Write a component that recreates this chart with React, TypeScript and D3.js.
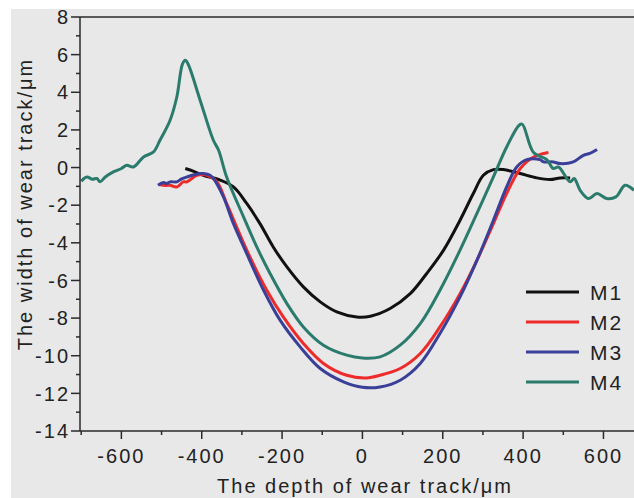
import React from 'react';
import * as d3 from 'd3';

// depth (μm), width (μm) pairs
const m1: [number, number][] = [
  [-441, -0.05], [-420, -0.2], [-396, -0.41], [-354, -0.67], [-321, -1.03], [-288, -1.91],
  [-255, -2.98], [-222, -4.22], [-188, -5.28], [-147, -6.34], [-105, -7.14], [-64, -7.67],
  [-14, -7.94], [20, -7.9], [69, -7.49], [119, -6.7], [160, -5.63], [202, -4.39], [243, -2.8],
  [276, -1.38], [301, -0.41], [326, -0.11], [351, -0.11], [393, -0.32], [434, -0.55],
  [467, -0.64], [492, -0.55], [517, -0.55],
];
const m2: [number, number][] = [
  [-505, -0.9], [-490, -0.95], [-479, -0.94], [-462, -1.03], [-446, -0.76], [-437, -0.76],
  [-412, -0.41], [-387, -0.41], [-362, -0.76], [-338, -1.91], [-313, -3.16], [-280, -4.75],
  [-238, -6.52], [-197, -7.94], [-147, -9.35], [-97, -10.41], [-39, -11.04], [10, -11.18],
  [44, -11.04], [94, -10.68], [144, -9.88], [193, -8.47], [243, -6.7], [285, -4.93],
  [326, -2.98], [359, -1.38], [393, -0.05], [426, 0.56], [463, 0.8],
];
const m3: [number, number][] = [
  [-509, -0.94], [-495, -0.8], [-487, -0.85], [-479, -0.76], [-462, -0.76], [-450, -0.6],
  [-437, -0.5], [-404, -0.32], [-396, -0.32], [-379, -0.41], [-371, -0.58], [-346, -1.56],
  [-321, -2.98], [-288, -4.57], [-246, -6.52], [-205, -8.11], [-155, -9.53], [-105, -10.68],
  [-47, -11.39], [0, -11.68], [44, -11.66], [94, -11.3], [144, -10.41], [193, -8.82],
  [243, -6.87], [285, -4.93], [326, -2.8], [359, -1.03], [384, 0.03], [409, 0.42],
  [442, 0.42], [451, 0.3], [475, 0.3], [492, 0.21], [525, 0.3], [550, 0.65], [566, 0.75],
  [584, 0.96],
];
const m4: [number, number][] = [
  [-700, -0.73], [-686, -0.5], [-672, -0.62], [-661, -0.58], [-653, -0.76], [-640, -0.5],
  [-620, -0.23], [-600, -0.05], [-587, 0.12], [-570, 0.03], [-545, 0.56], [-520, 0.83],
  [-504, 1.45], [-479, 2.5], [-462, 3.75], [-448, 5.5], [-441, 5.7], [-434, 5.5], [-404, 3.58],
  [-371, 1.45], [-358, 0.92], [-338, -0.5], [-296, -2.62], [-263, -4.22], [-230, -5.63],
  [-188, -7.23], [-147, -8.47], [-97, -9.44], [-39, -9.97], [0, -10.12], [44, -10.06],
  [94, -9.44], [144, -8.29], [193, -6.52], [243, -4.39], [285, -2.44], [326, -0.5],
  [359, 1.09], [390, 2.25], [398, 2.3], [426, 0.8], [459, 0.42], [475, -0.05], [488, 0.03],
  [517, -0.76], [527, -0.58], [542, -1.21], [563, -1.65], [584, -1.38], [608, -1.65],
  [631, -1.56], [654, -0.94], [676, -1.21],
];

const names = ['M1', 'M2', 'M3', 'M4'];
const colors = ['#111111', '#ee2a2a', '#3a3f98', '#2b7b6d'];
const seriesData = [m1, m2, m3, m4];

const xTicks = [-600, -400, -200, 0, 200, 400, 600];
const yTicks = [-14, -12, -10, -8, -6, -4, -2, 0, 2, 4, 6, 8];

const W = 634;
const H = 498;
const left = 80;
const top = 17;
const bottom = 431;
const right = 634;

export default function App() {
  const x = d3.scaleLinear().domain([-703, 676]).range([left, right]);
  const y = d3.scaleLinear().domain([-14, 8]).range([bottom, top]);
  const line = d3
    .line<[number, number]>()
    .x(d => x(d[0]))
    .y(d => y(d[1]))
    .curve(d3.curveCatmullRom.alpha(0.5));

  const xMinor = d3.range(-700, 700, 200);
  const yMinor = d3.range(-13, 8, 2);
  const font = 'Arial, "Liberation Sans", Helvetica, sans-serif';

  return (
    <svg width={W} height={H} style={{ position: 'absolute', left: 0, top: 0 }} fontFamily={font}>
      <rect x={0} y={0} width={W} height={H} fill="#fff" />
      <rect x={11} y={9} width={W - 11} height={H - 9} fill="#e8e8e8" />
      <defs>
        <clipPath id="plot">
          <rect x={left} y={top} width={right - left} height={bottom - top} />
        </clipPath>
      </defs>

      <g clipPath="url(#plot)">
        {seriesData.map((d, i) => (
          <path key={names[i]} d={line(d) || ''} fill="none" stroke={colors[i]} strokeWidth={3} strokeLinejoin="round" />
        ))}
      </g>

      {/* frame */}
      <g stroke="#2a2a2a" strokeWidth={1.5} fill="none">
        <line x1={left} x2={right} y1={top} y2={top} />
        <line x1={left} x2={left} y1={top} y2={bottom} />
        <line x1={left} x2={right} y1={bottom} y2={bottom} />
        {yTicks.map(t => (
          <line key={'y' + t} x1={left - 9} x2={left} y1={y(t)} y2={y(t)} />
        ))}
        {yMinor.map(t => (
          <line key={'ym' + t} x1={left - 4} x2={left} y1={y(t)} y2={y(t)} />
        ))}
        {xTicks.map(t => (
          <line key={'x' + t} x1={x(t)} x2={x(t)} y1={bottom} y2={bottom + 8} />
        ))}
        {xMinor.map(t => (
          <line key={'xm' + t} x1={x(t)} x2={x(t)} y1={bottom} y2={bottom + 4} />
        ))}
      </g>

      <g fontSize={20} fill="#222" letterSpacing={2}>
        {yTicks.map(t => (
          <text key={'yl' + t} x={70} y={y(t)} dy="0.36em" textAnchor="end">
            {t}
          </text>
        ))}
        {xTicks.map(t => (
          <text key={'xl' + t} x={x(t)} y={463} textAnchor="middle">
            {t}
          </text>
        ))}
        <text x={365} y={493} textAnchor="middle">The depth of wear track/μm</text>
        <text transform="translate(32,204) rotate(-90)" textAnchor="middle">The width of wear track/μm</text>
      </g>

      {/* legend */}
      <g>
        {names.map((n, i) => (
          <g key={n} transform={`translate(526,${292 + i * 30})`}>
            <line x1={0} x2={53} y1={0} y2={0} stroke={colors[i]} strokeWidth={3} />
            <text x={64} y={0} dy="0.36em" fontSize={21} fill="#222" letterSpacing={2}>
              {n}
            </text>
          </g>
        ))}
      </g>
    </svg>
  );
}
